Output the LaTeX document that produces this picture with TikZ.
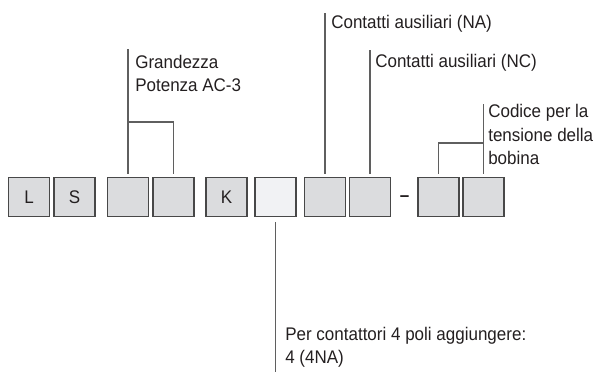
\documentclass[tikz,border=0pt]{standalone}
\usepackage{fontspec}
\setmainfont[FakeStretch=0.93]{Liberation Sans}
\usetikzlibrary{positioning, calc}
\definecolor{boxGray}{RGB}{219,220,222}
\definecolor{boxLight}{RGB}{241,242,244}
\definecolor{edgeGray}{RGB}{72,72,72}
\definecolor{leadGray}{RGB}{95,95,95}
\definecolor{txtDark}{RGB}{35,31,32}

\begin{document}
\begin{tikzpicture}[x=0.025cm, y=-0.025cm,
		every node/.style={font=\fontsize{13}{17}\selectfont, text=txtDark},
		codebox/.style={draw=edgeGray, fill=boxGray, line width=0.9pt, inner sep=0pt, minimum width=1.03cm, minimum height=0.98cm},
		lead/.style={draw=leadGray, line width=0.75pt},
		lbl/.style={anchor=base west, align=left, inner sep=0pt}]
	\useasboundingbox (0,0) rectangle (600,372);
	% Code boxes
	\node[codebox] (bL) at (29,197) {L};
	\node[codebox] (bS) at (74.5,197) {S};
	\node[codebox] (bSizeA) at (128,197) {};
	\node[codebox] (bSizeB) at (173.5,197) {};
	\node[codebox] (bK) at (226.5,197) {K};
	\node[codebox, fill=boxLight] (bPoles) at (275.5,197) {};
	\node[codebox] (bNA) at (325,197) {};
	\node[codebox] (bNC) at (370,197) {};
	\node[font=\fontsize{13}{17}\selectfont\bfseries, anchor=base, inner sep=0pt] (dash) at (404.5,202) {–};
	\node[codebox] (bCoilA) at (438.5,197) {};
	\node[codebox] (bCoilB) at (483.5,197) {};
	% Labels (base = last line)
	\node[lbl] (lSize) at (135,92) {Grandezza\\Potenza AC-3};
	\node[lbl] (lNA) at (331,29) {Contatti ausiliari (NA)};
	\node[lbl] (lNC) at (375,68) {Contatti ausiliari (NC)};
	\node[lbl] (lCoil) at (488,165) {Codice per la\\tensione della\\bobina};
	\node[lbl] (lPoles) at (285,364) {Per contattori 4 poli aggiungere:\\4 (4NA)};
	% Leader ends
	\coordinate (sizeTop) at (bSizeA.north |- 0,49);
	\coordinate (sizeKnee) at (bSizeA.north |- 0,122);
	\coordinate (naTop) at (bNA.north |- 0,13);
	\coordinate (ncTop) at (bNC.north |- 0,50);
	\coordinate (coilTop) at (bCoilB.north |- 0,104);
	\coordinate (coilKnee) at (bCoilB.north |- 0,143);
	\coordinate (polesEnd) at (bPoles.south |- 0,372);
	% Leaders
	\draw[lead, shorten <=2pt] (bSizeA.north) -- (sizeTop);
	\draw[lead, shorten <=2pt] (bSizeB.north) |- (sizeKnee);
	\draw[lead, shorten <=2pt] (bNA.north) -- (naTop);
	\draw[lead, shorten <=2pt] (bNC.north) -- (ncTop);
	\draw[lead, shorten <=2pt] (bCoilB.north) -- (coilTop);
	\draw[lead, shorten <=2pt] (bCoilA.north) |- (coilKnee);
	\draw[lead, shorten <=3.5pt] (bPoles.south) -- (polesEnd);
\end{tikzpicture}
\end{document}
